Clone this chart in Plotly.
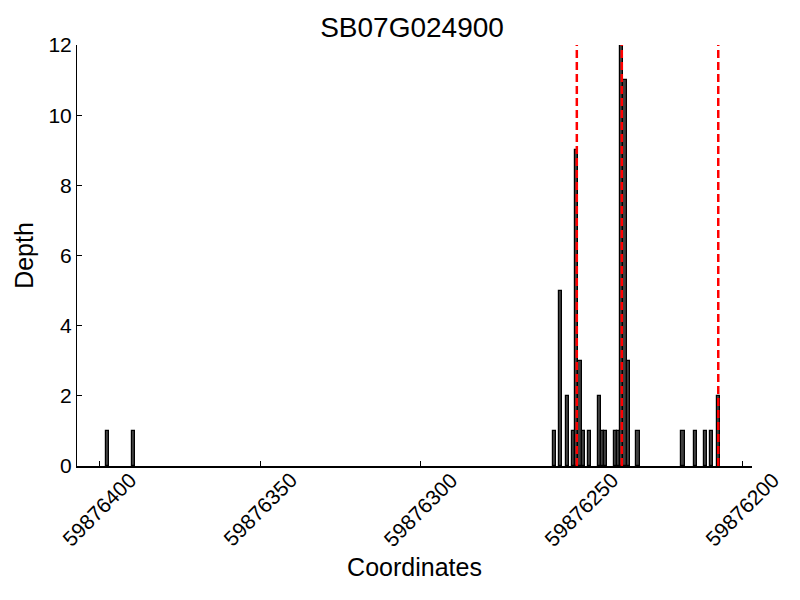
import plotly.graph_objects as go

title_text = "SB07G024900"
# bar left edges (each bar spans [pos, pos+1])
positions = [59876397, 59876389,
             59876258, 59876256, 59876254, 59876252, 59876251, 59876250, 59876249,
             59876247, 59876244, 59876243, 59876242, 59876239, 59876238, 59876237,
             59876236, 59876235, 59876232, 59876218, 59876214, 59876211, 59876209,
             59876207]
depths = [1, 1,
          1, 5, 2, 1, 9, 3, 1,
          1, 2, 1, 1, 1, 1, 12,
          11, 3, 1, 1, 1, 1, 1,
          2]
red_lines = [59876251.5, 59876237.5, 59876207.5]
x_ticks = [59876400, 59876350, 59876300, 59876250, 59876200]
y_ticks = [0, 2, 4, 6, 8, 10, 12]
x_range = [59876407, 59876197]
y_range = [0, 12]

FONT = "Liberation Sans, Arial, sans-serif"

fig = go.Figure()
fig.add_trace(go.Bar(
    x=positions, y=depths, width=1, offset=0,
    marker=dict(color="#404040", line=dict(color="black", width=1.2)),
    showlegend=False,
))

for v in red_lines:
    fig.add_shape(type="line", xref="x", yref="paper", x0=v, x1=v, y0=0, y1=1,
                  line=dict(color="red", width=2.5, dash="8px,4px"), layer="above")

for t in x_ticks:
    fig.add_annotation(x=t, xref="x", y=-0.1045, yref="paper", text=str(t),
                       showarrow=False, textangle=-45, xanchor="center", yanchor="middle",
                       font=dict(family=FONT, size=21, color="black"))

# page body has an 8px margin, so offsets are reduced by 8px
fig.update_layout(
    width=800, height=600,
    margin=dict(l=69, r=56, t=37, b=142),
    paper_bgcolor="white", plot_bgcolor="white",
    bargap=0,
    title=dict(text=title_text, x=0.505, xanchor="center", y=0.968, yanchor="middle",
               font=dict(family=FONT, size=28, color="black")),
    font=dict(family=FONT, color="black"),
)
fig.update_xaxes(
    range=x_range, tickvals=x_ticks, showticklabels=False,
    ticks="inside", ticklen=5, tickcolor="black", tickwidth=1,
    showline=True, linecolor="black", linewidth=1.5, mirror=False,
    showgrid=False, zeroline=False, automargin=False,
    title=dict(text="Coordinates", font=dict(family=FONT, size=25, color="black"), standoff=92),
)
fig.update_yaxes(
    range=y_range, tickvals=y_ticks,
    ticks="inside", ticklen=5, tickcolor="black", tickwidth=1,
    showline=True, linecolor="black", linewidth=1, mirror=False,
    showgrid=False, zeroline=False, automargin=False,
    tickfont=dict(family=FONT, size=21, color="black"),
    title=dict(text="Depth", font=dict(family=FONT, size=25, color="black"), standoff=7),
)

fig.write_html("out.html")
